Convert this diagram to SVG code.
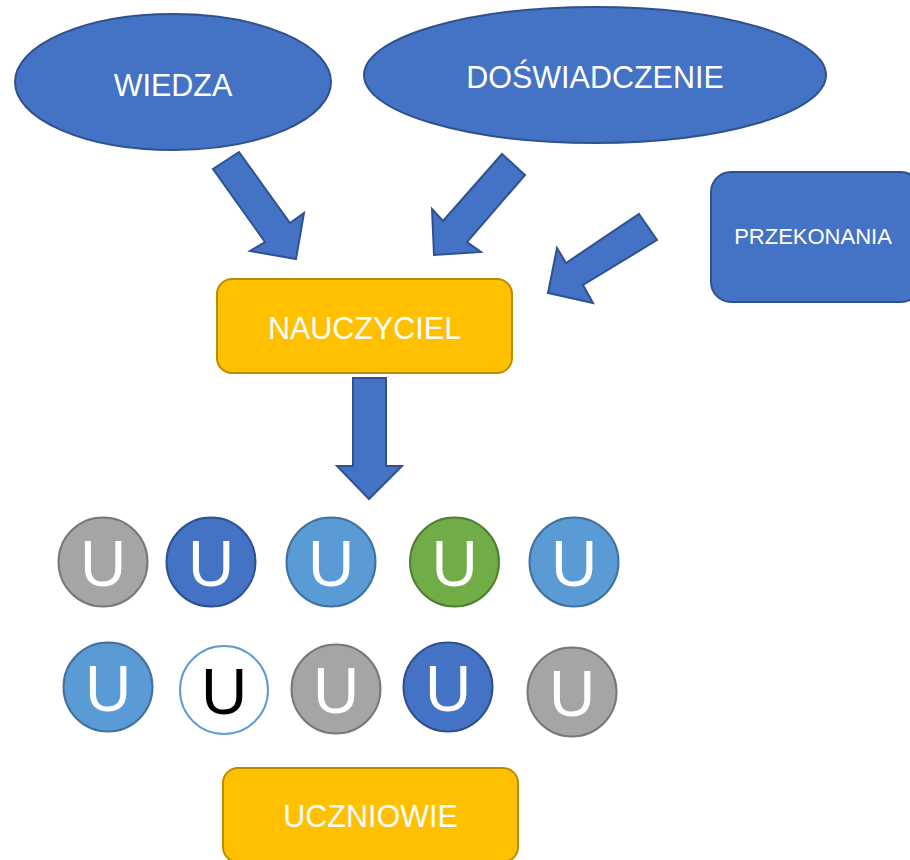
<svg xmlns="http://www.w3.org/2000/svg" width="910" height="860" viewBox="0 0 910 860">
<style>
.blue{fill:#4472C4;stroke:#2F528F;stroke-width:2}
.yel{fill:#FFC000;stroke:#BC8C00;stroke-width:2}
.lbl{font-family:"Liberation Sans",Arial,sans-serif;fill:#fff;text-anchor:middle}
.big{font-size:30.5px}
.u{font-family:"Liberation Sans",Arial,sans-serif;font-size:64px;fill:#fff;text-anchor:middle}
.gray{fill:#A5A5A5;stroke:#787878;stroke-width:2}
.dblue{fill:#4472C4;stroke:#2F528F;stroke-width:2}
.lblue{fill:#5B9BD5;stroke:#41719C;stroke-width:2}
.green{fill:#70AD47;stroke:#507E32;stroke-width:2}
.white{fill:#fff;stroke:#5B9BD5;stroke-width:2}
</style>
<rect width="910" height="860" fill="#fff"/>
<g id="wiedza">
<ellipse class="blue" cx="173" cy="82" rx="158" ry="68"/>
<text class="lbl big" x="173" y="96">WIEDZA</text>
</g>
<g id="doswiadczenie">
<ellipse class="blue" cx="595" cy="75" rx="231" ry="68"/>
<text class="lbl big" x="595" y="88">DOŚWIADCZENIE</text>
</g>
<g id="przekonania">
<rect class="blue" x="711" y="172" width="210" height="130" rx="20"/>
<text class="lbl" x="813" y="244" font-size="22">PRZEKONANIA</text>
</g>
<g id="nauczyciel">
<rect class="yel" x="217" y="279" width="295" height="94" rx="15"/>
<text class="lbl big" x="364.5" y="339">NAUCZYCIEL</text>
</g>
<g id="connectors">
<polygon class="blue" points="239,152 290,223 304,213 296,259 250,251 265,242 213,169"/>
<polygon class="blue" points="502,154 525,175 467,242 481,252 434,255 432,209 443,221"/>
<polygon class="blue" points="639,214 657,240 583,285 593,303 548,293 557,248 566,263"/>
<polygon class="blue" points="353,378 386,378 386,466 402,466 369,499 337,466 353,466"/>
</g>
<g id="u1"><circle class="gray" cx="103" cy="562" r="44.5"/><text class="u" x="103" y="586">U</text></g>
<g id="u2"><circle class="dblue" cx="211" cy="562" r="44.5"/><text class="u" x="211" y="586">U</text></g>
<g id="u3"><circle class="lblue" cx="331" cy="562" r="44.5"/><text class="u" x="331" y="586">U</text></g>
<g id="u4"><circle class="green" cx="454.5" cy="562" r="44.5"/><text class="u" x="454.5" y="586">U</text></g>
<g id="u5"><circle class="lblue" cx="574" cy="562" r="44.5"/><text class="u" x="574" y="586">U</text></g>
<g id="u6"><circle class="lblue" cx="108" cy="687" r="44.5"/><text class="u" x="108" y="711">U</text></g>
<g id="u7"><circle class="white" cx="224" cy="690" r="44"/><text class="u" x="224" y="714" fill="#000" style="fill:#000">U</text></g>
<g id="u8"><circle class="gray" cx="336" cy="689" r="44.5"/><text class="u" x="336" y="713">U</text></g>
<g id="u9"><circle class="dblue" cx="448" cy="687" r="44.5"/><text class="u" x="448" y="711">U</text></g>
<g id="u10"><circle class="gray" cx="572" cy="692" r="44.5"/><text class="u" x="572" y="716">U</text></g>
<g id="uczniowie">
<rect class="yel" x="223" y="768" width="295" height="94" rx="15"/>
<text class="lbl big" x="370.5" y="827">UCZNIOWIE</text>
</g>
</svg>
